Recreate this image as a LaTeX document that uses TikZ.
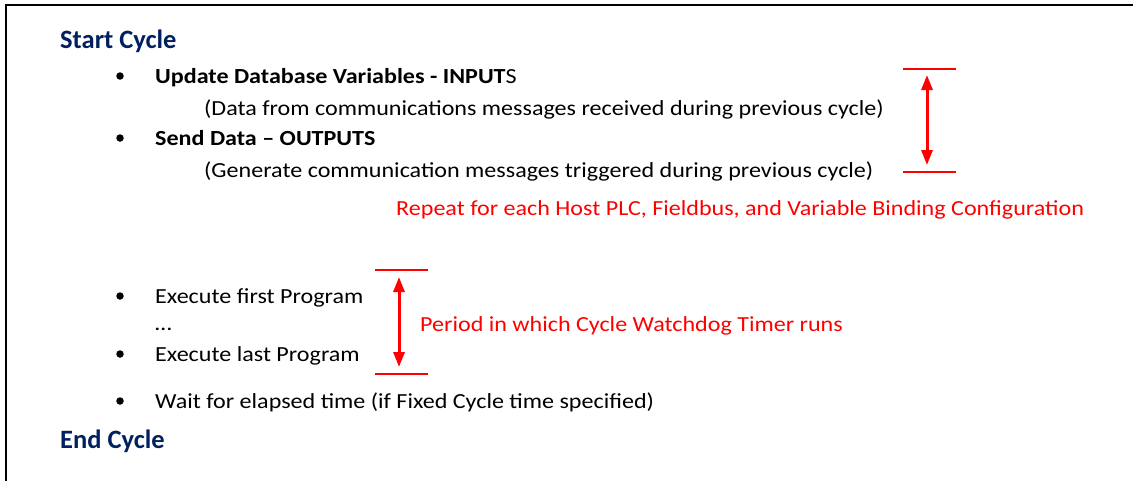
\documentclass[tikz,border=0pt]{standalone}
\usepackage{fontspec}
\setmainfont{Carlito}
\newfontfamily\bodyfont{Carlito}[FakeStretch=1.12, Ligatures=TeX]
\usetikzlibrary{arrows.meta}
\definecolor{navy}{RGB}{0,32,96}
\definecolor{myred}{RGB}{255,0,0}
\begin{document}
\begin{tikzpicture}[x=1pt,y=-1pt,
  title/.style={anchor=base west, inner sep=0pt, font=\fontsize{26.5}{30}\selectfont\bfseries, text=navy},
  body/.style={anchor=base west, inner sep=0pt, font=\bodyfont\fontsize{21.5}{25}\selectfont},
  note/.style={anchor=base west, inner sep=0pt, font=\bodyfont\fontsize{21.5}{25}\selectfont, text=myred},
  bul/.style={circle, fill=black, inner sep=0pt, minimum size=7.5pt},
  limit/.style={myred, line width=2pt},
  span/.style={myred, line width=3pt, {Triangle[length=15pt,width=11pt]}-{Triangle[length=15pt,width=11pt]}}]
\useasboundingbox (0,0) rectangle (1133,480);
% frame
\coordinate (fbl) at (6,481);
\coordinate (ftl) at (6,5);
\coordinate (ftr) at (1134,5);
\draw[line width=2.5pt] (fbl) -- (ftl) -- (ftr);
% texts
\node[title] (start) at (60,48) {Start Cycle};
\node[bul] (b1) at (120,76) {};
\node[body] (upd) at (155,83) {\textbf{Update Database Variables - INPUT}S};
\node[body] (upddesc) at (204,115) {(Data from communications messages received during previous cycle)};
\node[bul] (b2) at (120,138) {};
\node[body] (send) at (155,145) {\textbf{Send Data \textendash{} OUTPUTS}};
\node[body] (senddesc) at (204,177) {(Generate communication messages triggered during previous cycle)};
\node[note] (repeat) at (396,215) {Repeat for each Host PLC, Fieldbus, and Variable Binding Configuration};
\node[bul] (b3) at (120,296) {};
\node[body] (first) at (155,303) {Execute first Program};
\node[body] (dots) at (155,330) {\dots};
\node[bul] (b4) at (120,354) {};
\node[body] (last) at (155,361) {Execute last Program};
\node[note] (period) at (420,331) {Period in which Cycle Watchdog Timer runs};
\node[bul] (b5) at (120,401) {};
\node[body] (wait) at (155,408) {Wait for elapsed time (if Fixed Cycle time specified)};
\node[title] (end) at (60,448) {End Cycle};
% first bracket
\coordinate (l1a) at (903,68.5);
\coordinate (l1b) at (956,68.5);
\coordinate (l2a) at (903,172);
\coordinate (l2b) at (956,172);
\coordinate (a1t) at (927,75);
\coordinate (a1b) at (927,165);
\draw[limit] (l1a) -- (l1b);
\draw[limit] (l2a) -- (l2b);
\draw[span] (a1t) -- (a1b);
% second bracket
\coordinate (m1a) at (375,270);
\coordinate (m1b) at (428,270);
\coordinate (m2a) at (375,374);
\coordinate (m2b) at (428,374);
\coordinate (a2t) at (399,277);
\coordinate (a2b) at (399,367);
\draw[limit] (m1a) -- (m1b);
\draw[limit] (m2a) -- (m2b);
\draw[span] (a2t) -- (a2b);
\end{tikzpicture}
\end{document}
